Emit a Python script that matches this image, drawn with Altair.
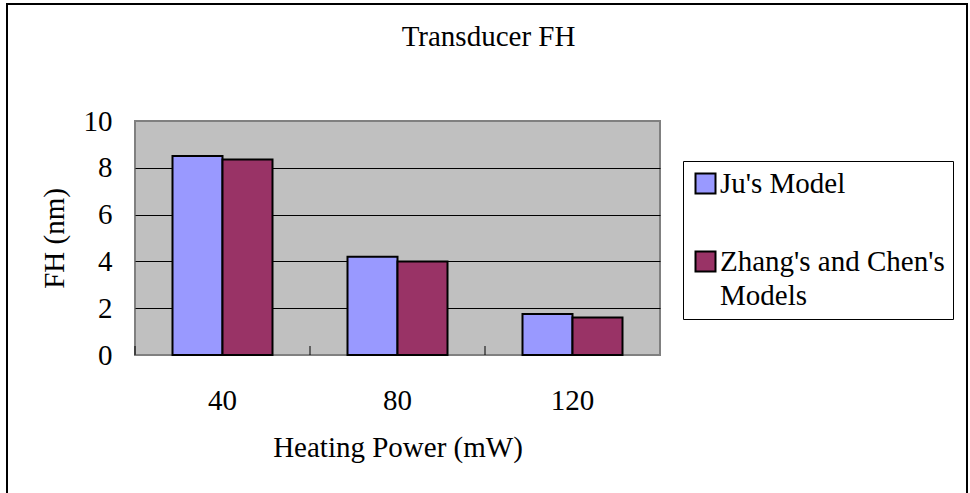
import altair as alt
import pandas as pd

# Film height (FH, nm) of the transducer at each heating power
powers = ["40", "80", "120"]
series = ["Ju's Model", "Zhang's and Chen's Models"]
ju_fh = [8.5, 4.2, 1.75]
zhang_chen_fh = [8.35, 4.0, 1.6]
colors = ["#9999FF", "#993366"]
y_ticks = [0, 2, 4, 6, 8, 10]

rows = []
for p, a, b in zip(powers, ju_fh, zhang_chen_fh):
    rows.append({"power": p, "model": series[0], "fh": a})
    rows.append({"power": p, "model": series[1], "fh": b})
df = pd.DataFrame(rows)

FONT = "Liberation Serif"
FS = 29
W, H = 525, 234

x_enc = alt.X(
    "power:N",
    sort=powers,
    scale=alt.Scale(paddingInner=0, paddingOuter=0),
    axis=alt.Axis(
        title="Heating Power (mW)",
        labelAngle=0,
        ticks=False,
        domain=False,
        labelPadding=31,
        titleBaseline="alphabetic",
        titleY=101,
    ),
)

bars = alt.Chart(df).mark_bar(stroke="black", strokeWidth=2).encode(
    x=x_enc,
    xOffset=alt.XOffset(
        "model:N", sort=series,
        scale=alt.Scale(paddingInner=0, paddingOuter=0.75),
    ),
    y=alt.Y(
        "fh:Q",
        scale=alt.Scale(domain=[0, 10], nice=False),
        axis=alt.Axis(
            title="FH (nm)",
            values=y_ticks,
            grid=True,
            gridColor="black",
            gridWidth=1,
            gridOpacity={"condition": {"test": "datum.value > 0 && datum.value < 10", "value": 1}, "value": 0},
            ticks=False,
            domain=False,
            labelPadding=23,
            titleAngle=-90,
            titleBaseline="alphabetic",
            titleX=-72,
            titleY=H / 2,
        ),
    ),
    color=alt.Color(
        "model:N",
        sort=series,
        scale=alt.Scale(domain=series, range=colors),
        legend=alt.Legend(
            title=None,
            orient="none",
            legendX=548,
            legendY=40,
            strokeColor="black",
            fillColor="white",
            padding=8,
            symbolType="square",
            symbolSize=400,
            symbolStrokeColor="black",
            symbolStrokeWidth=2,
            symbolOpacity=1,
            labelFont=FONT,
            labelFontSize=FS,
            labelColor="black",
            labelOffset=0,
            labelLimit=400,
            labelBaseline="middle",
            rowPadding=48,
            # second series name wraps onto two lines
            labelExpr='datum.label == "Zhang\'s and Chen\'s Models" ? ["Zhang\'s and Chen\'s", "Models"] : datum.label',
        ),
    ),
)

# Category-boundary tick marks on the inside of the horizontal axis
ticks = alt.Chart(pd.DataFrame({"power": powers})).mark_rule(color="black", strokeWidth=1).encode(
    x=alt.X("power:N", sort=powers, bandPosition=0),
    y=alt.value(H - 9),
    y2=alt.value(H),
)

# Frame around the whole chart area (its lower edge runs past the page)
frame = alt.Chart(pd.DataFrame({"k": [0]})).mark_rect(
    fill=None, stroke="black", strokeWidth=2
).encode(
    x=alt.value(-128), x2=alt.value(832), y=alt.value(-117), y2=alt.value(380)
)

chart = (
    alt.layer(bars, ticks, frame)
    .properties(
        width=W,
        height=H,
        title=alt.TitleParams(
            "Transducer FH",
            font=FONT,
            fontSize=FS,
            fontWeight="normal",
            color="black",
            anchor="middle",
            baseline="alphabetic",
            dx=91,
            dy=28,
            offset=-44,
        ),
        autosize=alt.AutoSizeParams(type="none"),
        padding={"left": 135, "top": 121, "right": 310, "bottom": 138},
        background="white",
    )
    .configure(style={"guide-label": {"lineHeight": 34}})
    .configure_view(fill="#C0C0C0", stroke="#808080", strokeWidth=2)
    .configure_axis(
        labelFont=FONT,
        labelFontSize=FS,
        labelColor="black",
        titleFont=FONT,
        titleFontSize=FS,
        titleFontWeight="normal",
        titleColor="black",
    )
)

chart.save("out.html", embed_options={"renderer": "svg", "actions": False})
